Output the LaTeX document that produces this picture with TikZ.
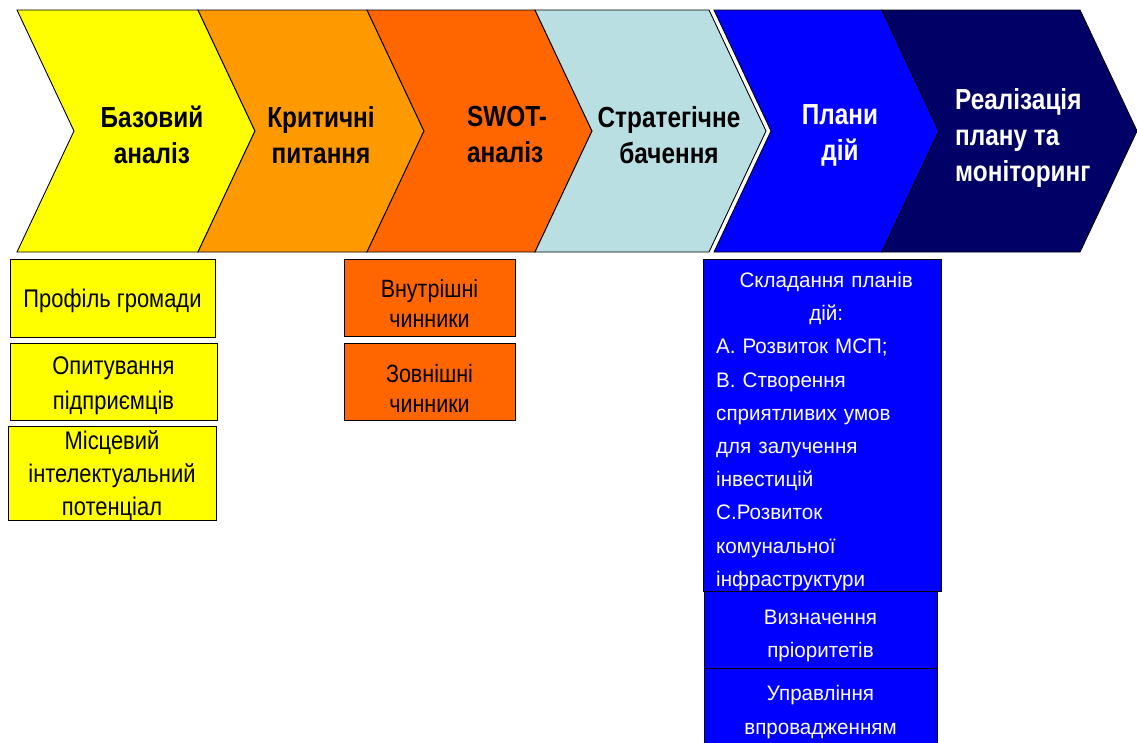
\documentclass[tikz,border=0pt]{standalone}
\usepackage{fontspec}
\setmainfont{Liberation Sans}
\newfontfamily\titlefont[FakeStretch=0.84]{Liberation Sans}
\newfontfamily\boxfont[FakeStretch=0.86]{Liberation Sans}
\newfontfamily\bluefont[FakeStretch=0.98]{Liberation Sans}
\definecolor{cyel}{HTML}{FFFF00}
\definecolor{corg}{HTML}{FF9900}
\definecolor{cdor}{HTML}{FF6600}
\definecolor{clbl}{HTML}{B9DFE3}
\definecolor{cblu}{HTML}{0000FF}
\definecolor{cnav}{HTML}{000066}
\tikzset{
  chev/.style={draw=black, line width=0.9pt, line join=miter},
  ttl/.style={font=\titlefont\bfseries\fontsize{29}{36}\selectfont, align=center, inner sep=0pt},
  ttlw/.style={ttl, text=white},
  sbox/.style={draw=black, line width=0.9pt},
  stxt/.style={font=\boxfont\fontsize{25.5}{34}\selectfont, align=center, inner sep=0pt},
  otxt/.style={font=\boxfont\fontsize{25}{30}\selectfont, align=center, inner sep=0pt},
  btxt/.style={font=\bluefont\fontsize{21}{33.2}\selectfont, text=white, inner sep=0pt}
}
\newcommand{\chevron}[4]{% left, right, color, name
  \fill[#3] (#1,10) -- (#2,10) -- (#2+57,131) -- (#2,252) -- (#1,252) -- (#1+57,131) -- cycle;
  \draw[chev] (#1,10) -- (#2,10) -- (#2+57,131) -- (#2,252) -- (#1,252) -- (#1+57,131) -- cycle;
  \coordinate (#4) at (#1,131);
}
\begin{document}
\begin{tikzpicture}[x=1pt,y=-1pt]
\useasboundingbox (0,0) rectangle (1137,742);
% chevrons
\chevron{17}{198}{cyel}{c1}
\chevron{198}{367}{corg}{c2}
\chevron{367}{535}{cdor}{c3}
\chevron{535}{709}{clbl}{c4}
\chevron{714}{882}{cblu}{c5}
\chevron{882}{1080}{cnav}{c6}
% titles
\node[ttl] (t1) at (152,135) {Базовий\\аналіз};
\node[ttl] (t2) at (321,135) {Критичні\\питання};
\node[ttl, align=left] (t3) at (507,135) {SWOT-\\аналіз};
\node[ttl] (t4) at (669,135) {Стратегічне\\бачення};
\node[ttlw] (t5) at (840,135) {Плани\\дій};
\node[ttlw, align=left, anchor=west] (t6) at (955,138) {Реалізація\\плану та\\моніторинг};
% yellow boxes
\fill[cyel] (10,259) rectangle (215,337);
\draw[sbox] (10,259) rectangle (215,337);
\node[stxt] (y1) at (112.5,301) {Профіль громади};
\fill[cyel] (10,343) rectangle (217,420);
\draw[sbox] (10,343) rectangle (217,420);
\node[stxt, font=\boxfont\fontsize{25.5}{35}\selectfont] (y2) at (113.5,386) {Опитування\\підприємців};
\fill[cyel] (8,426) rectangle (216,520);
\draw[sbox] (8,426) rectangle (216,520);
\node[stxt, font=\boxfont\fontsize{25.5}{33}\selectfont] (y3) at (112,476) {Місцевий\\інтелектуальний\\потенціал};
% orange boxes
\fill[cdor] (344,259) rectangle (515,336);
\draw[sbox] (344,259) rectangle (515,336);
\node[otxt] (o1) at (429.5,303) {Внутрішні\\чинники};
\fill[cdor] (344,343) rectangle (515,420);
\draw[sbox] (344,343) rectangle (515,420);
\node[otxt] (o2) at (429.5,388) {Зовнішні\\чинники};
% blue boxes
\fill[cblu] (704,591) rectangle (937,668);
\fill[cblu] (704,668) rectangle (937,760);
\fill[cblu] (703,259) rectangle (941,591);
\draw[sbox] (703,259) rectangle (941,591);
\draw[sbox] (704,591) rectangle (937,668);
\draw[sbox] (704,668) rectangle (937,760);
\node[btxt, text width=220pt, anchor=north west] (b1) at (716,272) {\centering Складання планів\\дій:\par
\raggedright А. Розвиток МСП;\\В. Створення\\сприятливих умов\\для залучення\\інвестицій\\С.Розвиток\\комунальної\\інфраструктури\par};
\node[btxt, align=center] (b2) at (820.5,636) {Визначення\\пріоритетів};
\node[btxt, align=center] (b3) at (820.5,712) {Управління\\впровадженням};
\end{tikzpicture}
\end{document}
